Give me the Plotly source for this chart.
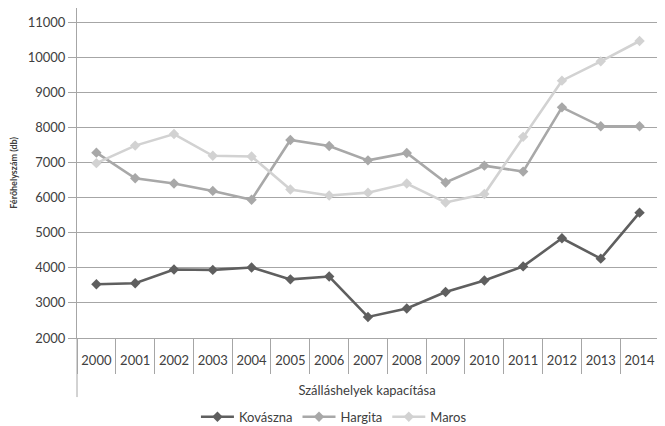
import plotly.graph_objects as go

years = ["2000", "2001", "2002", "2003", "2004", "2005", "2006", "2007",
         "2008", "2009", "2010", "2011", "2012", "2013", "2014"]
kovaszna = [3530, 3560, 3950, 3940, 4010, 3670, 3750, 2600, 2840, 3310, 3640, 4040, 4840, 4260, 5570]
hargita = [7280, 6550, 6400, 6190, 5940, 7640, 7470, 7060, 7270, 6430, 6910, 6740, 8570, 8030, 8030]
maros = [6980, 7480, 7810, 7190, 7170, 6230, 6060, 6140, 6400, 5860, 6100, 7730, 9330, 9880, 10460]

y_ticks = [2000, 3000, 4000, 5000, 6000, 7000, 8000, 9000, 10000, 11000]

FONT = "Lato, 'Open Sans', sans-serif"
TXT = "#404040"
GRID = "#a6a6a6"

series = [
    ("Kovászna", kovaszna, "#5f5f5f"),
    ("Hargita", hargita, "#a8a8a8"),
    ("Maros", maros, "#d2d2d2"),
]

fig = go.Figure()
for name, vals, col in series:
    fig.add_trace(go.Scatter(
        x=years, y=vals, name=name, mode="lines+markers",
        line=dict(color=col, width=2.6),
        marker=dict(symbol="diamond", size=8, color=col),
        xaxis="x", yaxis="y",
    ))

# invisible helper trace for the separator axis
fig.add_trace(go.Scatter(
    x=years, y=kovaszna, mode="lines", opacity=0, showlegend=False,
    hoverinfo="skip", xaxis="x2", yaxis="y",
))

xr = [-0.5, 14.45]
fig.update_layout(
    width=657, height=418,
    margin=dict(l=69, r=8, t=0, b=88),
    paper_bgcolor="white", plot_bgcolor="white",
    font=dict(family=FONT, size=13, color=TXT),
    showlegend=True,
    legend=dict(orientation="h", xref="paper", x=0.443, xanchor="center",
                yref="container", y=0.022, yanchor="middle",
                font=dict(size=13, color=TXT), itemwidth=33, tracegroupgap=0,
                bgcolor="rgba(0,0,0,0)"),
    xaxis=dict(
        type="category", categoryorder="array", categoryarray=years,
        range=xr, showgrid=False, zeroline=False,
        showline=True, linecolor=GRID, linewidth=1,
        ticks="outside", ticklen=10, tickcolor="rgba(0,0,0,0)",
        tickfont=dict(size=13, color=TXT),
        title=dict(text="Szálláshelyek kapacítása", font=dict(size=13, color=TXT), standoff=19),
        automargin=False,
    ),
    xaxis2=dict(
        type="category", categoryorder="array", categoryarray=years,
        overlaying="x", anchor="y", side="bottom", matches="x",
        range=xr, showgrid=False, zeroline=False, showline=False,
        tickson="boundaries", ticks="outside", ticklen=35, tickcolor=GRID, tickwidth=1,
        showticklabels=False, automargin=False,
    ),
    yaxis=dict(
        range=[2000, 11400], tickvals=y_ticks, ticktext=[str(v) for v in y_ticks],
        showgrid=True, gridcolor=GRID, gridwidth=1, zeroline=False,
        showline=True, linecolor=GRID, linewidth=1,
        ticks="outside", ticklen=8, tickcolor=GRID,
        tickfont=dict(size=13, color=TXT),
        title=dict(text="<b>Férőhelyszám (db)</b>", font=dict(size=9, color=TXT), standoff=10),
        automargin=False,
    ),
)

# extension of the value-axis line below the category labels
fig.add_shape(type="line", xref="paper", yref="paper", x0=0, x1=0, y0=0, y1=-0.179,
              line=dict(color=GRID, width=1))

fig.write_html("out.html")
